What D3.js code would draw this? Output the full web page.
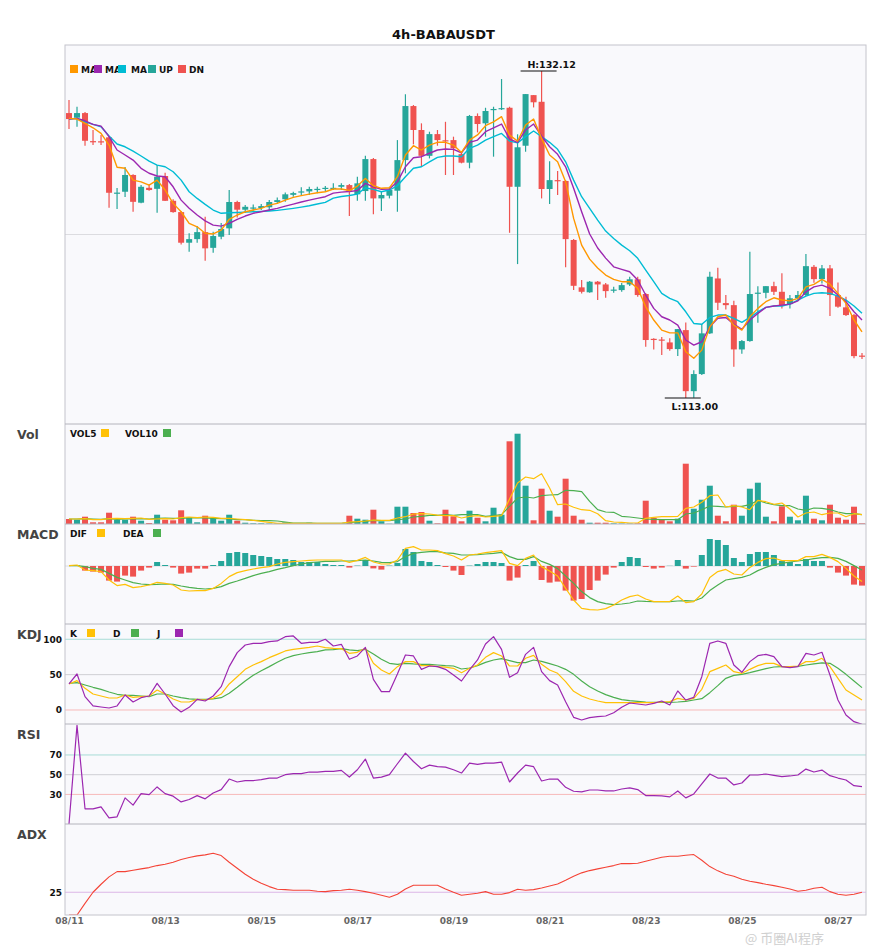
<!DOCTYPE html>
<html><head><meta charset="utf-8">
<script src="https://cdn.jsdelivr.net/npm/d3@7"></script>
<style>body{margin:0;background:#fff;} svg{display:block;font-family:"DejaVu Sans",sans-serif;}</style>
</head><body><svg id="c" width="885" height="950"></svg>
<script>
const opens = [129.66,129.39,129.66,128.02,128.01,128.24,124.95,125.06,126.04,124.42,
125.29,125.23,125.98,124.53,123.87,122.08,122.29,122.70,121.78,122.43,
122.92,124.46,124.01,124.08,124.11,124.15,124.46,124.62,124.88,125.04,
125.08,125.20,125.26,125.26,125.35,125.45,124.91,125.10,126.97,124.67,
124.83,125.12,126.91,130.07,128.67,127.16,128.43,128.07,128.08,127.26,
126.76,129.49,129.06,129.84,129.90,129.97,125.35,127.75,130.71,130.32,
125.22,125.74,125.69,122.24,119.47,119.18,119.80,119.64,119.28,119.31,
119.64,119.94,119.08,116.46,116.42,116.25,115.86,116.97,113.40,114.40,
116.78,119.99,118.55,118.43,115.84,116.33,119.11,119.15,119.54,119.21,
118.49,118.83,119.02,120.67,119.95,120.58,119.02,118.30,117.85,115.48];
const closes = [129.31,129.66,128.04,127.97,127.97,125.00,125.01,126.04,124.47,125.35,
125.16,125.94,124.53,123.87,122.08,122.29,122.70,121.75,122.47,122.88,
124.46,124.01,124.18,124.14,124.22,124.46,124.57,124.91,124.98,125.08,
125.22,125.23,125.29,125.29,125.45,125.12,125.55,126.97,124.67,124.87,
125.16,126.91,130.07,128.67,127.16,128.43,128.08,128.02,127.60,126.76,
129.49,129.02,129.78,129.90,129.95,125.35,127.66,130.77,130.29,125.22,
125.74,125.69,122.29,119.56,119.21,119.80,119.64,119.25,119.34,119.60,
119.94,119.02,116.39,116.42,116.37,115.86,117.03,113.40,114.40,116.78,
120.09,118.57,118.43,115.84,116.33,119.08,119.16,119.54,119.21,118.43,
118.83,119.02,120.71,119.95,120.58,119.02,118.34,117.85,115.45,115.42];
const highs = [130.42,130.03,129.72,128.67,128.38,128.32,125.28,126.50,126.09,125.45,
125.51,126.62,126.17,124.62,123.93,122.64,123.05,123.60,122.72,123.23,
125.16,124.53,124.28,124.32,124.34,124.57,124.73,125.02,125.06,125.32,
125.35,125.35,125.39,125.55,125.55,125.51,125.94,127.16,127.03,125.06,
125.35,128.08,130.76,130.13,129.06,128.57,128.67,129.15,128.28,127.40,
129.55,129.64,129.97,130.03,131.65,130.03,128.42,130.77,130.71,132.12,
126.85,126.27,125.74,122.29,119.90,119.84,119.84,119.72,119.50,119.72,
120.09,120.09,119.14,116.50,116.56,116.49,117.03,117.42,114.63,117.32,
120.38,120.62,119.02,118.69,116.39,121.55,119.54,119.54,119.80,120.29,
119.02,119.25,121.42,120.77,120.77,120.77,119.76,118.92,117.91,115.63];
const lows = [128.73,128.86,127.75,127.79,127.79,124.12,124.05,124.75,123.89,124.38,
125.12,123.83,124.52,123.83,121.98,121.55,122.08,121.03,121.49,122.28,
122.53,123.56,123.81,123.95,123.99,123.95,124.34,124.47,124.77,124.87,
124.87,124.97,125.06,125.16,125.16,123.64,124.53,124.53,123.74,123.93,
124.67,123.89,126.14,127.83,126.52,127.01,127.75,126.04,126.04,126.72,
126.43,128.53,128.28,127.11,129.84,122.66,120.83,127.40,129.99,124.67,
124.34,124.87,120.64,119.31,119.11,119.15,118.73,118.86,119.15,119.21,
119.55,118.92,115.99,115.84,115.51,115.76,115.45,113.00,113.02,114.34,
116.74,118.14,118.18,114.83,115.59,116.29,117.40,118.83,119.02,118.24,
118.24,118.73,118.96,119.74,119.70,117.79,118.28,117.79,115.32,115.28];
const ma5 = [129.35,129.31,129.06,128.80,128.47,127.79,126.49,126.43,125.74,125.64,
125.45,125.74,125.16,124.38,123.89,123.21,123.01,122.63,122.59,122.82,
123.45,123.70,123.89,123.99,124.09,124.28,124.38,124.57,124.73,124.83,
124.92,125.00,125.06,125.22,125.22,125.13,125.39,125.84,125.41,125.26,
125.29,125.94,127.21,127.75,127.50,127.79,127.95,127.95,127.79,127.36,
128.08,128.38,128.92,129.15,129.45,128.38,128.02,128.96,129.31,128.18,
127.21,126.81,125.64,123.50,121.94,121.12,120.60,120.19,119.94,119.80,
119.80,119.41,118.33,117.56,116.97,116.81,116.81,115.70,115.32,115.80,
117.16,117.75,117.85,117.26,116.97,117.75,118.24,118.63,118.86,118.73,
118.68,118.83,119.50,119.64,119.94,119.66,119.12,118.53,117.56,116.87];
const ma10 = [129.31,129.35,129.21,129.00,128.90,128.28,127.50,127.21,126.91,126.43,
126.14,125.98,125.94,125.35,124.57,124.09,123.70,123.36,123.11,123.05,
123.21,123.45,123.64,123.80,123.89,123.99,124.09,124.22,124.34,124.46,
124.57,124.67,124.77,124.98,125.04,125.07,125.13,125.55,125.35,125.20,
125.22,125.64,126.52,127.05,127.11,127.31,127.50,127.56,127.54,127.34,
127.95,128.08,128.57,128.80,129.02,128.14,127.95,128.67,129.02,128.32,
127.69,127.25,126.52,125.26,123.89,122.59,121.77,121.18,120.67,120.52,
120.38,119.90,119.02,118.24,117.75,117.56,117.26,116.39,116.09,116.29,
117.16,117.66,117.71,117.32,117.01,117.56,117.95,118.30,118.38,118.43,
118.49,118.68,119.21,119.50,119.60,119.41,119.02,118.63,118.04,117.56];
const ma20 = [129.31,129.35,129.15,129.00,128.86,128.32,127.85,127.69,127.44,127.15,
126.85,126.62,126.52,126.23,125.74,125.06,124.67,124.32,123.99,123.80,
123.83,123.85,123.87,123.89,123.91,123.93,123.97,124.03,124.09,124.16,
124.24,124.34,124.44,124.69,124.78,124.84,124.92,125.29,125.20,125.06,
125.16,125.41,125.94,126.43,126.52,126.81,127.07,127.15,127.15,127.11,
127.60,127.79,128.08,128.28,128.47,128.02,127.92,128.28,128.61,128.28,
127.95,127.54,126.81,125.74,124.77,124.09,123.40,122.76,122.33,121.94,
121.61,121.17,120.48,119.80,119.12,118.83,118.63,118.04,117.36,117.31,
117.71,117.85,117.85,117.66,117.42,117.71,118.04,118.30,118.38,118.38,
118.49,118.73,118.96,119.12,119.15,119.12,118.96,118.73,118.38,117.95];
const volumes = [5,4.3,7.3,1.7,1.7,11.3,4.3,4.3,7.3,3.3,
1,9.3,4.3,3.7,13.7,6.7,1.7,8.3,6,3.3,
9.3,3.3,1.3,0.7,0.7,0.5,0.5,1.7,0.5,0.5,
1.3,0.3,0.3,1,0.3,8.3,5.3,4.3,14.3,2.7,
0.3,17.3,17.3,11,12,3.3,0.7,14.3,7.7,2.7,
13.3,6.3,2.7,16.3,9.3,82.7,90.3,38.3,3.7,35.3,
13.3,7.3,45.3,8.3,4.3,1.3,1.3,1.3,0.7,0.5,
0.5,0.7,23.3,6,4.3,2.7,5.3,60.3,15.3,24.3,
38.3,8.3,2.7,19.3,8.3,35.3,41.3,7.3,2.7,17.7,
7.3,3.7,28.3,5.3,3.7,19.3,6.3,4.3,17.3,0.7];
const vol5 = [5,5,5.3,4.3,4.3,5.3,5.7,5.3,5.7,6,
4.7,5,5.3,5,6.3,7,6.3,7,6.7,5.7,
5.7,5,4.3,3.7,2.7,1.7,0.7,0.7,0.7,0.7,
0.7,0.7,0.7,0.7,0.7,2,2.3,3,4,3.7,
3.7,6,7.3,10,10.3,10,8.9,8.3,8.3,6,
7.7,8.3,7,7.7,8.3,25,41,47,45.3,50.3,
36,19.3,20,16.7,14.3,13.7,10.3,3.3,2,1.7,
1,1,5.7,6.7,7.3,7.3,7.7,15.7,17,21.7,
28.3,29,17,18.3,17,14.3,23.7,22.3,19.7,21,
15,7,11,12,9.3,11,11,7.3,10.3,9.3];
const vol10 = [5,5,5.3,5,4.7,5.3,4.7,5,5,5.3,
5,5.7,6,5.7,5.7,6,6.3,6,5.7,5.3,
5,4.3,4.3,3.7,3.3,3.3,3,2,1,1,
1,0.7,0.7,0.7,0.7,1.3,2,2.7,3.7,3.3,
3.3,4.3,5,7,7.7,8.7,8.7,9.3,8.7,9.3,
9.3,9.3,7.7,8.3,9.3,17.7,26,27,26,28.3,
29,29.3,33.7,33.3,32.3,22.7,14.3,12,11.7,7.7,
7,6,5,4.7,4.3,4.3,4.3,10,11,14.3,
18,17.7,17,17.7,17.7,19.3,23.7,21,19.3,18.3,
18.3,15,13.7,16,15.7,14.3,12,10.3,10.3,9.3];
const dif = [0.02,0.05,-0.20,-0.23,-0.28,-0.70,-0.98,-0.92,-1.08,-1.03,
-0.95,-0.82,-0.87,-0.95,-1.20,-1.25,-1.23,-1.23,-1.12,-0.87,
-0.53,-0.33,-0.23,-0.15,-0.08,-0.03,0.10,0.18,0.22,0.25,
0.28,0.30,0.30,0.30,0.30,0.18,0.28,0.43,0.20,0.10,
0.10,0.30,0.88,0.97,0.80,0.80,0.77,0.62,0.50,0.30,
0.55,0.60,0.67,0.72,0.77,0.13,0.02,0.38,0.55,-0.03,
-0.25,-0.50,-1.12,-1.70,-2.12,-2.18,-2.20,-2.13,-1.95,-1.70,
-1.53,-1.45,-1.65,-1.78,-1.78,-1.78,-1.50,-1.83,-1.78,-1.40,
-0.57,-0.28,-0.17,-0.40,-0.45,-0.07,0.18,0.37,0.40,0.27,
0.27,0.27,0.47,0.47,0.58,0.43,0.22,-0.12,-0.50,-0.78];
const dea = [0.02,0.02,-0.03,-0.12,-0.17,-0.37,-0.57,-0.70,-0.83,-0.90,
-0.93,-0.92,-0.90,-0.92,-1.00,-1.07,-1.12,-1.15,-1.12,-1.03,
-0.87,-0.75,-0.62,-0.48,-0.37,-0.28,-0.17,-0.08,0.02,0.10,
0.17,0.20,0.23,0.23,0.25,0.25,0.27,0.30,0.25,0.18,
0.17,0.22,0.47,0.63,0.68,0.72,0.72,0.66,0.63,0.55,
0.55,0.57,0.60,0.63,0.68,0.47,0.33,0.33,0.47,0.23,
0.08,-0.13,-0.50,-0.87,-1.28,-1.58,-1.78,-1.88,-1.93,-1.90,
-1.85,-1.75,-1.77,-1.78,-1.78,-1.78,-1.75,-1.73,-1.75,-1.60,
-1.23,-0.95,-0.70,-0.63,-0.57,-0.45,-0.23,-0.07,0.07,0.13,
0.20,0.25,0.30,0.37,0.42,0.43,0.38,0.23,0.02,-0.20];
const macdHist = [0,0.02,-0.23,-0.28,-0.33,-0.73,-0.78,-0.48,-0.53,-0.23,
-0.08,0.2,0.05,-0.08,-0.38,-0.33,-0.13,-0.13,0.05,0.25,
0.65,0.7,0.65,0.55,0.5,0.45,0.35,0.35,0.3,0.2,
0.2,0.2,0.1,0.05,0.05,-0.08,0.02,0.3,-0.12,-0.18,
0.02,0.15,0.85,0.7,0.25,0.2,0.05,-0.05,-0.23,-0.45,
0.02,0.1,0.2,0.2,0.15,-0.73,-0.58,0.05,0.25,-0.7,
-0.83,-0.78,-1.23,-1.73,-1.65,-1.2,-0.73,-0.43,-0.08,0.2,
0.45,0.4,-0.05,-0.13,-0.08,0.01,0.3,-0.13,-0.03,0.55,
1.35,1.3,1.05,0.4,0.2,0.6,0.7,0.7,0.55,0.25,
0.2,0.1,0.35,0.25,0.25,-0.08,-0.33,-0.48,-0.93,-0.98];
const kValues = [36.8,41.5,30.6,22.6,19.8,17.0,17.0,21.2,17.9,18.9,
19.8,28.3,22.6,15.6,11.3,11.3,15.1,14.1,16.5,22.6,
36.8,47.1,57.5,63.6,68.4,74.0,78.7,83.5,85.8,87.2,
88.6,90.5,88.2,87.2,86.8,80.1,81.6,87.2,66.0,56.6,
50.9,61.3,68.4,68.4,62.7,62.7,61.3,60.5,58.9,52.8,
58.9,63.6,74.5,81.1,76.4,62.2,62.2,73.1,77.3,64.6,
56.6,51.9,40.1,26.4,19.8,15.6,12.7,10.4,10.4,10.4,
10.4,10.4,10.4,10.4,11.3,11.8,16.5,14.1,16.5,29.2,
54.2,58.9,63.6,54.2,51.9,57.5,62.7,66.0,66.0,61.3,
61.3,62.2,68.4,68.4,73.1,61.3,44.8,28.3,21.2,14.1];
const dValues = [37.7,38.7,35.4,32.1,29.2,25.5,22.2,20.7,20.7,19.8,
18.9,22.6,22.6,19.8,17.4,15.6,15.1,15.1,15.6,17.4,
23.6,32.1,41.0,49.0,55.6,61.3,67.4,73.1,76.8,79.2,
81.1,82.5,84.9,85.3,86.8,84.9,83.9,85.8,79.2,71.7,
66.0,64.6,66.0,65.1,64.6,64.6,63.6,62.7,62.2,58.0,
59.4,62.7,67.4,70.7,72.6,69.8,66.9,66.9,70.7,68.8,
65.5,62.2,57.5,50.4,41.0,33.0,26.9,21.7,17.9,14.6,
13.2,12.3,11.3,10.8,10.8,10.8,11.3,12.3,14.1,16.0,
24.5,34.4,44.8,49.0,50.4,52.8,55.6,58.5,60.8,61.3,
61.3,61.8,63.6,65.1,66.5,66.0,58.9,50.4,41.0,31.6];
const jValues = [36.8,50.9,18.9,5.7,4.2,2.8,5.7,21.2,11.3,17.4,
19.8,37.7,22.6,6.1,-2.8,3.8,15.1,12.7,19.8,33.0,
61.3,81.1,91.9,94.3,94.3,96.7,97.6,103.7,104.7,94.3,
95.7,95.7,100.0,90.5,92.9,71.7,76.4,88.6,43.4,25.9,
25.9,50.9,77.8,76.4,57.5,62.2,61.3,57.5,49.5,41.0,
56.6,70.7,93.4,103.7,85.8,46.2,52.8,78.7,88.6,54.2,
41.5,35.4,11.8,-10.4,-14.1,-10.8,-9.4,-8.5,-3.8,3.8,
9.9,8.5,7.1,9.4,12.7,7.1,26.9,14.1,17.9,47.1,
94.3,97.6,94.3,63.6,53.3,68.4,76.8,78.7,75.4,61.3,
59.9,61.3,80.1,77.8,81.6,49.5,14.1,-7.1,-16.5,-20.3];
const rsi = [0,100,15.4,15.4,17.4,6.3,7.3,26.5,19.1,30.8,
29.8,37.6,30.8,28.2,22.4,24.8,28.8,25.5,31.5,34.9,
45.6,42.6,44.0,44.0,45.0,46.6,46.6,50.0,51.0,51.0,
52.7,52.7,53.4,53.4,54.4,47.6,55.0,65.8,46.6,47.6,
50.0,61.1,71.8,63.4,56.0,59.7,58.1,57.7,55.0,51.7,
61.8,60.4,61.8,61.8,62.8,42.6,51.7,59.7,58.1,43.6,
45.6,45.6,37.2,33.2,32.5,34.5,34.5,33.5,33.5,35.5,
36.6,34.9,28.8,28.8,28.5,27.5,33.5,26.5,30.5,40.6,
50.7,46.6,46.6,39.6,41.6,49.7,49.7,50.7,49.3,48.0,
48.7,49.7,55.7,52.7,54.7,49.0,46.6,44.6,38.9,37.9];
const adx = [0,0,12.8,25.0,33.8,41.9,47.7,47.7,49.2,50.7,
52.1,54.3,55.8,58.0,60.9,63.1,65.0,66.1,67.9,65.3,
58.0,51.4,44.8,39.3,34.9,31.2,28.3,27.9,27.2,27.2,
27.2,26.1,25.7,26.8,27.2,28.3,27.2,25.7,23.9,21.7,
19.5,22.8,28.6,32.7,32.7,32.7,32.7,28.6,25.0,21.7,
22.8,23.9,25.7,22.8,22.8,24.6,28.3,27.2,27.9,29.7,
31.9,34.1,38.2,42.6,46.3,48.8,50.7,52.5,54.3,56.5,
56.5,56.9,59.1,61.3,63.5,64.6,64.6,65.7,66.4,60.2,
53.2,48.5,44.8,42.6,39.3,37.1,35.6,33.8,32.3,30.5,
28.6,26.1,27.2,29.4,30.5,25.7,22.8,21.7,22.8,25.0];
const tickIndex = [0,12,24,36,48,60,72,84,96];
const tickLabels = ["08/11","08/13","08/15","08/17","08/19","08/21","08/23","08/25","08/27"];
const kdjTicks = [0,50,100];
const rsiTicks = [30,50,70];
const adxTicks = [25];

// ---- layout / style ----
const UP = "#26a69a", DN = "#ef5350";
const C_MA5 = "#ff9800", C_MA10 = "#9c27b0", C_MA20 = "#00bcd4";
const C_Y = "#ffc107", C_G = "#4caf50", C_P = "#9c27b0", C_ADX = "#f44336";
const L = 65, R = 866;
const P = {main:[45,424], vol:[424,524], macd:[524,624], kdj:[624,724], rsi:[724,824], adx:[824,915]};

const svg = d3.select("#c");
const defs = svg.append("defs");
Object.entries(P).forEach(([k,[y0,y1]]) => {
  defs.append("clipPath").attr("id","clip-"+k).append("rect")
    .attr("x",L).attr("y",y0).attr("width",R-L).attr("height",y1-y0);
});

const n = closes.length;
const x = d3.scalePoint().domain(d3.range(n)).range([69, 862]);
const bw = 6;

const yMain = d3.scaleLinear().domain([111.48, 133.64]).range([P.main[1], P.main[0]]);
const yVol = d3.scaleLinear().domain([0, 100]).range([P.vol[1], P.vol[0]]);
const yMacd = d3.scaleLinear().domain([-2.9, 2.1]).range([P.macd[1], P.macd[0]]);
const yKdj = d3.scaleLinear().domain([-19.8, 121.6]).range([P.kdj[1], P.kdj[0]]);
const yRsi = d3.scaleLinear().domain([0, 101.4]).range([P.rsi[1], P.rsi[0]]);
const yAdx = d3.scaleLinear().domain([0, 100]).range([P.adx[1], P.adx[0]]);

// backgrounds
svg.append("rect").attr("x",L).attr("y",P.main[0]).attr("width",R-L).attr("height",P.adx[1]-P.main[0]).attr("fill","#f9f9fc");

// title
svg.append("text").attr("x",443.5).attr("y",39).attr("text-anchor","middle")
  .attr("font-size",13).attr("font-weight","bold").attr("fill","#111").text("4h-BABAUSDT");

// gridlines
function hline(y, color){ svg.append("line").attr("x1",L).attr("x2",R).attr("y1",y).attr("y2",y).attr("stroke",color).attr("stroke-width",1); }
hline(yMain((yMain.domain()[0]+yMain.domain()[1])/2), "#dcdce0");
hline(yMacd(0), "#dcdce0");
hline(yKdj(100), "#a8dcd6"); hline(yKdj(50), "#cfcfd4"); hline(yKdj(0), "#f7b9b9");
hline(yRsi(70), "#a8dcd6"); hline(yRsi(50), "#cfcfd4"); hline(yRsi(30), "#f7b9b9");
hline(yAdx(25), "#dcb6e6");

const idx = d3.range(n);
const up = i => closes[i] >= opens[i];

// candles
const gMain = svg.append("g").attr("clip-path","url(#clip-main)");
gMain.selectAll("line.wick").data(idx).join("line")
  .attr("x1",i=>x(i)).attr("x2",i=>x(i))
  .attr("y1",i=>yMain(highs[i])).attr("y2",i=>yMain(lows[i]))
  .attr("stroke",i=>up(i)?UP:DN).attr("stroke-width",1.2);
gMain.selectAll("rect.body").data(idx).join("rect")
  .attr("x",i=>x(i)-bw/2).attr("width",bw)
  .attr("y",i=>yMain(Math.max(opens[i],closes[i])))
  .attr("height",i=>Math.max(1.2, Math.abs(yMain(opens[i])-yMain(closes[i]))))
  .attr("fill",i=>up(i)?UP:DN);

function drawLine(g, data, y, color, w){
  g.append("path").datum(data)
    .attr("d", d3.line().x((d,i)=>x(i)).y(d=>y(d)))
    .attr("fill","none").attr("stroke",color).attr("stroke-width",w).attr("stroke-linejoin","round");
}
drawLine(gMain, ma20, yMain, C_MA20, 1.4);
drawLine(gMain, ma10, yMain, C_MA10, 1.4);
drawLine(gMain, ma5, yMain, C_MA5, 1.4);

// high / low markers
const iH = d3.maxIndex(highs), iL = d3.minIndex(lows);
svg.append("line").attr("x1",x(iH)-21).attr("x2",x(iH)+15).attr("y1",yMain(highs[iH])).attr("y2",yMain(highs[iH])).attr("stroke","#111").attr("stroke-width",1.2);
svg.append("text").attr("x",x(iH)+10).attr("y",yMain(highs[iH])-3).attr("text-anchor","middle")
  .attr("font-size",9.5).attr("font-weight","bold").attr("fill","#111").text("H:"+highs[iH].toFixed(2));
svg.append("line").attr("x1",x(iL)-21).attr("x2",x(iL)+15).attr("y1",yMain(lows[iL])).attr("y2",yMain(lows[iL])).attr("stroke","#111").attr("stroke-width",1.2);
svg.append("text").attr("x",x(iL)+9).attr("y",yMain(lows[iL])+12).attr("text-anchor","middle")
  .attr("font-size",9.5).attr("font-weight","bold").attr("fill","#111").text("L:"+lows[iL].toFixed(2));

// volume
const gVol = svg.append("g").attr("clip-path","url(#clip-vol)");
gVol.selectAll("rect").data(idx).join("rect")
  .attr("x",i=>x(i)-bw/2).attr("width",bw)
  .attr("y",i=>yVol(volumes[i])).attr("height",i=>yVol(0)-yVol(volumes[i]))
  .attr("fill",i=>up(i)?UP:DN);
drawLine(gVol, vol10, yVol, C_G, 1.2);
drawLine(gVol, vol5, yVol, C_Y, 1.2);

// macd
const gMacd = svg.append("g").attr("clip-path","url(#clip-macd)");
gMacd.selectAll("rect").data(idx).join("rect")
  .attr("x",i=>x(i)-bw/2).attr("width",bw)
  .attr("y",i=>yMacd(Math.max(0,macdHist[i])))
  .attr("height",i=>Math.abs(yMacd(macdHist[i])-yMacd(0)))
  .attr("fill",i=>macdHist[i]>=0?UP:DN);
drawLine(gMacd, dea, yMacd, C_G, 1.2);
drawLine(gMacd, dif, yMacd, C_Y, 1.2);

// kdj
const gK = svg.append("g").attr("clip-path","url(#clip-kdj)");
drawLine(gK, dValues, yKdj, C_G, 1.2);
drawLine(gK, kValues, yKdj, C_Y, 1.2);
drawLine(gK, jValues, yKdj, C_P, 1.2);

// rsi
const gR = svg.append("g").attr("clip-path","url(#clip-rsi)");
drawLine(gR, rsi, yRsi, C_P, 1.2);

// adx
const gA = svg.append("g").attr("clip-path","url(#clip-adx)");
drawLine(gA, adx, yAdx, C_ADX, 1.1);

// panel borders
svg.append("rect").attr("x",L).attr("y",P.main[0]).attr("width",R-L).attr("height",P.adx[1]-P.main[0])
  .attr("fill","none").attr("stroke","#c4c4cc").attr("stroke-width",1);
["vol","macd","kdj","rsi","adx"].forEach(k => {
  svg.append("line").attr("x1",L).attr("x2",R).attr("y1",P[k][0]).attr("y2",P[k][0]).attr("stroke","#b4b4bc").attr("stroke-width",1);
});

// axes
function styleAxis(g, color){
  g.select(".domain").remove();
  g.selectAll("text").attr("font-size",9).attr("font-weight","bold").attr("fill",color).attr("font-family","DejaVu Sans");
}
const ax = svg.append("g").attr("transform",`translate(0,${P.adx[1]})`)
  .call(d3.axisBottom(x).tickValues(tickIndex).tickFormat((d,i)=>tickLabels[i]).tickSize(0).tickPadding(3));
styleAxis(ax, "#666");
[[yKdj,kdjTicks],[yRsi,rsiTicks],[yAdx,adxTicks]].forEach(([s,t]) => {
  const g = svg.append("g").attr("transform",`translate(${L},0)`)
    .call(d3.axisLeft(s).tickValues(t).tickSize(0).tickPadding(3));
  styleAxis(g, "#111");
});

// panel labels
[["Vol",439],["MACD",539],["KDJ",639],["RSI",739],["ADX",839]].forEach(([t,y]) => {
  svg.append("text").attr("x",17).attr("y",y).attr("font-size",12.5).attr("font-weight","bold").attr("fill","#444").text(t);
});

// legends
function legend(items, yBase){
  items.forEach(([label, lx, sx, color]) => {
    svg.append("rect").attr("x",sx).attr("y",yBase-8).attr("width",8).attr("height",8).attr("fill",color);
    if (label) svg.append("text").attr("x",lx).attr("y",yBase).attr("font-size",9).attr("font-weight","bold").attr("fill","#111").text(label);
  });
}
legend([["MA",81,70,C_MA5],["MA",105,94,C_MA10],["MA",131,118,C_MA20],["UP",159,148,UP],["DN",189,178,DN]], 73);
legend([["VOL5",70,101,C_Y],["VOL10",125,163,C_G]], 437);
legend([["DIF",70,97,C_Y],["DEA",123,153,C_G]], 537);
legend([["K",70,87,C_Y],["D",113,131,C_G],["J",157,175,C_P]], 637);

// watermark (kept below the axis labels, inside the frame)
svg.append("text").attr("x",745).attr("y",943).attr("font-size",13).attr("fill","#c8c8c8").attr("opacity",0.85)
  .attr("font-family","'Noto Sans CJK SC', sans-serif").text("@ 币圈AI程序");
</script></body></html>
